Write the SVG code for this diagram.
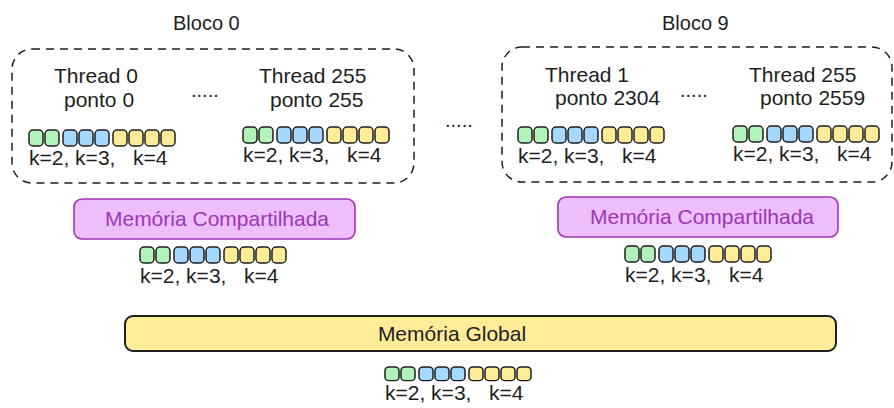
<svg xmlns="http://www.w3.org/2000/svg" xmlns:xlink="http://www.w3.org/1999/xlink" width="894" height="408" viewBox="0 0 894 408">
  <style>
    text { font-family: "Liberation Sans", Arial, sans-serif; font-size: 21px; fill: #1e1e1e; }
    .title { font-size: 20px; }
    .lbl { white-space: pre; }
    .block { fill: none; stroke: #1e1e1e; stroke-width: 1.5; stroke-dasharray: 8 6; }
    .shared { fill: #eebefa; stroke: #9c36b5; stroke-width: 1.6; }
    .shared-t { fill: #9c36b5; text-anchor: middle; }
    .global { fill: #ffec99; stroke: #1e1e1e; stroke-width: 2; }
    .c { stroke: #1e1e1e; stroke-width: 1.5; }
    .g { fill: #b2f2bb; }
    .b { fill: #a5d8ff; }
    .y { fill: #ffec99; }
  </style>
  <defs>
    <!-- row of cells: 2 for k=2, 3 for k=3, 4 for k=4 -->
    <g id="cells">
      <rect class="c g" x="0" y="0" width="14" height="16" rx="4"/>
      <rect class="c g" x="16" y="0" width="14" height="16" rx="4"/>
      <rect class="c b" x="34" y="0" width="14" height="16" rx="4"/>
      <rect class="c b" x="50" y="0" width="14" height="16" rx="4"/>
      <rect class="c b" x="66" y="0" width="14" height="16" rx="4"/>
      <rect class="c y" x="84" y="0" width="14" height="16" rx="4"/>
      <rect class="c y" x="100" y="0" width="14" height="16" rx="4"/>
      <rect class="c y" x="116" y="0" width="14" height="16" rx="4"/>
      <rect class="c y" x="132" y="0" width="14" height="16" rx="4"/>
    </g>
  </defs>

  <!-- Bloco 0 -->
  <g id="bloco0">
    <text class="title" x="173" y="30">Bloco 0</text>
    <rect class="block" x="12" y="49" width="402" height="134" rx="20"/>
    <g id="b0-thread0">
      <text x="54" y="83">Thread 0</text>
      <text x="64" y="107">ponto 0</text>
      <use xlink:href="#cells" x="29" y="130"/>
      <text class="lbl" x="29" y="165">k=2, k=3,   k=4</text>
    </g>
    <text class="title" x="191" y="97">.....</text>
    <g id="b0-thread255">
      <text x="259" y="83">Thread 255</text>
      <text x="270" y="107">ponto 255</text>
      <use xlink:href="#cells" x="243" y="127"/>
      <text class="lbl" x="243" y="162">k=2, k=3,   k=4</text>
    </g>
  </g>

  <text class="title" x="445" y="127">.....</text>

  <!-- Bloco 9 -->
  <g id="bloco9">
    <text class="title" x="662" y="30">Bloco 9</text>
    <rect class="block" x="502" y="47" width="390" height="135" rx="20"/>
    <g id="b9-thread1">
      <text x="545" y="82">Thread 1</text>
      <text x="555" y="105">ponto 2304</text>
      <use xlink:href="#cells" x="518" y="127"/>
      <text class="lbl" x="518" y="163">k=2, k=3,   k=4</text>
    </g>
    <text class="title" x="680" y="97">.....</text>
    <g id="b9-thread255">
      <text x="749" y="82">Thread 255</text>
      <text x="760" y="105">ponto 2559</text>
      <use xlink:href="#cells" x="733" y="126"/>
      <text class="lbl" x="733" y="161">k=2, k=3,   k=4</text>
    </g>
  </g>

  <!-- shared memory per block -->
  <g id="shared0">
    <rect class="shared" x="74" y="199" width="281" height="40" rx="8"/>
    <text class="shared-t" x="217" y="226">Memória Compartilhada</text>
    <use xlink:href="#cells" x="140" y="247"/>
    <text class="lbl" x="140" y="283">k=2, k=3,   k=4</text>
  </g>
  <g id="shared9">
    <rect class="shared" x="558" y="197" width="280" height="40" rx="8"/>
    <text class="shared-t" x="702" y="224">Memória Compartilhada</text>
    <use xlink:href="#cells" x="625" y="246"/>
    <text class="lbl" x="625" y="282">k=2, k=3,   k=4</text>
  </g>

  <!-- global memory -->
  <g id="global">
    <rect class="global" x="125" y="316" width="711" height="35" rx="8"/>
    <text x="452" y="341" style="text-anchor:middle">Memória Global</text>
    <use xlink:href="#cells" transform="translate(385 367) scale(1 0.85)"/>
    <text class="lbl" x="385" y="400">k=2, k=3,   k=4</text>
  </g>

  <g id="connectors"/>
</svg>
